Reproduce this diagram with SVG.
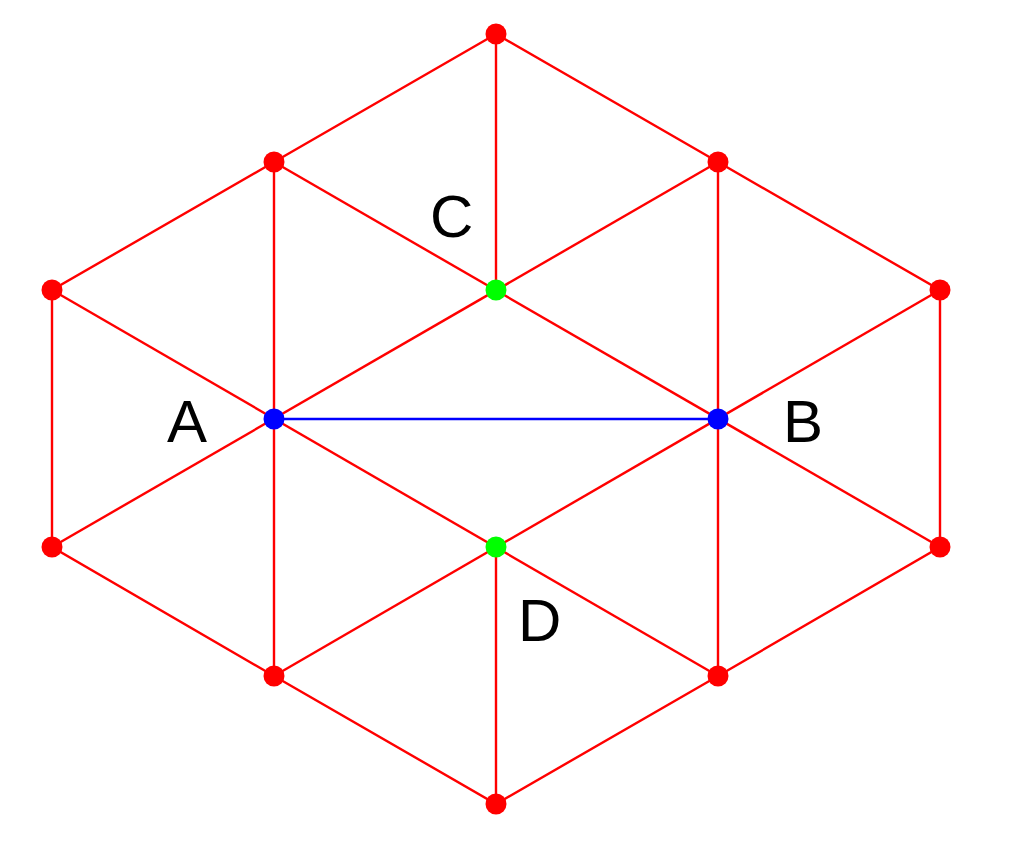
<svg xmlns="http://www.w3.org/2000/svg" width="1024" height="846" viewBox="0 0 1024 846">
<style>
.e{stroke:#ff0000;stroke-width:2.4;fill:none}
.ab{stroke:#0000ff;stroke-width:2.4}
.r{fill:#ff0000}.b{fill:#0000ff}.g{fill:#00ff00}
.t{font-family:"Liberation Sans",Arial,sans-serif;font-size:60px;fill:#000}
</style>
<rect width="1024" height="846" fill="#fff"/>
<g id="connectors">
<polygon class="e" points="496,34 274,162 52,290 52,547 274,676 496,804 718,676 940,547 940,290 718,162"/>
<line class="e" x1="496" y1="34" x2="496" y2="290"/>
<line class="e" x1="274" y1="162" x2="274" y2="676"/>
<line class="e" x1="718" y1="162" x2="718" y2="676"/>
<line class="e" x1="496" y1="547" x2="496" y2="804"/>
<line class="e" x1="274" y1="162" x2="940" y2="547"/>
<line class="e" x1="718" y1="162" x2="52" y2="547"/>
<line class="e" x1="52" y1="290" x2="718" y2="676"/>
<line class="e" x1="940" y1="290" x2="274" y2="676"/>
<line class="ab" x1="274" y1="419" x2="718" y2="419"/>
</g>
<g id="n_top"><circle class="r" cx="496" cy="34" r="10.5"/></g>
<g id="n_ul"><circle class="r" cx="274" cy="162" r="10.5"/></g>
<g id="n_ur"><circle class="r" cx="718" cy="162" r="10.5"/></g>
<g id="n_l1"><circle class="r" cx="52" cy="290" r="10.5"/></g>
<g id="n_r1"><circle class="r" cx="940" cy="290" r="10.5"/></g>
<g id="n_l2"><circle class="r" cx="52" cy="547" r="10.5"/></g>
<g id="n_r2"><circle class="r" cx="940" cy="547" r="10.5"/></g>
<g id="n_ll"><circle class="r" cx="274" cy="676" r="10.5"/></g>
<g id="n_lr"><circle class="r" cx="718" cy="676" r="10.5"/></g>
<g id="n_bot"><circle class="r" cx="496" cy="804" r="10.5"/></g>
<g id="n_C"><circle class="g" cx="496" cy="290" r="10.5"/><text class="t" x="430" y="237">C</text></g>
<g id="n_D"><circle class="g" cx="496" cy="547" r="10.5"/><text class="t" x="518" y="641">D</text></g>
<g id="n_A"><circle class="b" cx="274" cy="419" r="10.5"/><text class="t" x="167" y="442">A</text></g>
<g id="n_B"><circle class="b" cx="718" cy="419" r="10.5"/><text class="t" x="783" y="442">B</text></g>
</svg>
